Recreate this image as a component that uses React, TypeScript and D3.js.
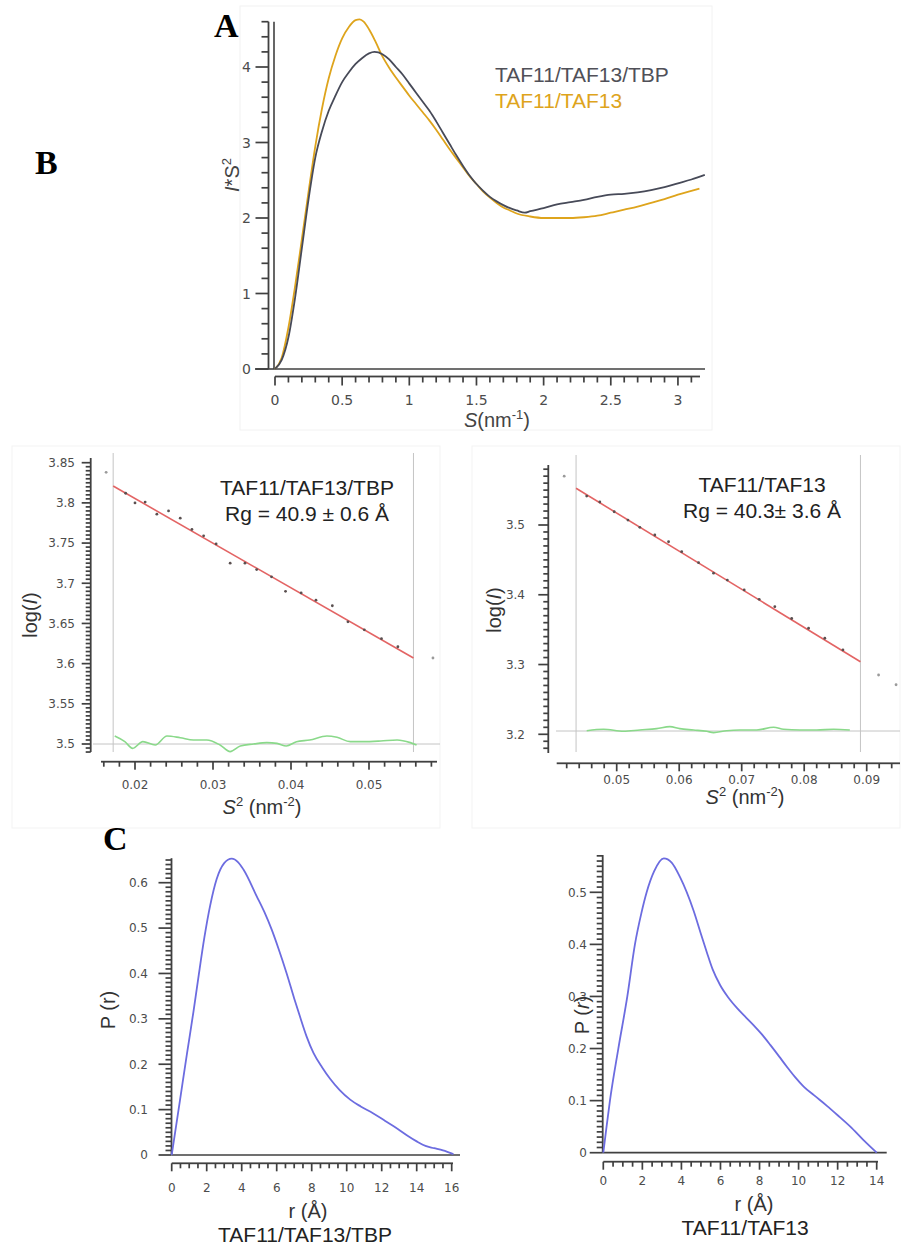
import React from "react";
import * as d3 from "d3";

// ---------- Panel A : Kratky plot ----------
const kratkySTBP = [0, 0.05, 0.1, 0.15, 0.2, 0.25, 0.3, 0.35, 0.4, 0.45, 0.5, 0.55, 0.6, 0.65, 0.7, 0.74, 0.8, 0.85, 0.9, 0.95, 1.0, 1.05, 1.1, 1.15, 1.2, 1.25, 1.3, 1.35, 1.4, 1.45, 1.5, 1.55, 1.6, 1.65, 1.7, 1.75, 1.8, 1.86, 1.9, 2.0, 2.1, 2.2, 2.3, 2.4, 2.5, 2.6, 2.7, 2.8, 2.9, 3.0, 3.1, 3.2];
const kratkyITBP = [0, 0.12, 0.42, 0.95, 1.6, 2.25, 2.8, 3.15, 3.42, 3.62, 3.8, 3.93, 4.04, 4.12, 4.18, 4.2, 4.17, 4.1, 4.0, 3.9, 3.78, 3.66, 3.54, 3.42, 3.28, 3.13, 2.98, 2.83, 2.69, 2.56, 2.45, 2.36, 2.28, 2.22, 2.17, 2.13, 2.1, 2.07, 2.09, 2.13, 2.18, 2.21, 2.24, 2.28, 2.31, 2.32, 2.34, 2.37, 2.41, 2.46, 2.51, 2.57];
const kratkySTAF = [0, 0.05, 0.1, 0.15, 0.2, 0.25, 0.3, 0.35, 0.4, 0.45, 0.5, 0.55, 0.6, 0.63, 0.66, 0.7, 0.75, 0.8, 0.85, 0.9, 0.95, 1.0, 1.05, 1.1, 1.15, 1.2, 1.25, 1.3, 1.35, 1.4, 1.45, 1.5, 1.55, 1.6, 1.65, 1.7, 1.75, 1.8, 1.9, 2.0, 2.1, 2.2, 2.3, 2.4, 2.5, 2.6, 2.7, 2.8, 2.9, 3.0, 3.1, 3.16];
const kratkyITAF = [0, 0.15, 0.55, 1.1, 1.72, 2.35, 2.95, 3.45, 3.85, 4.15, 4.38, 4.53, 4.62, 4.63, 4.6, 4.5, 4.33, 4.14, 3.99, 3.86, 3.74, 3.62, 3.51, 3.4, 3.29, 3.17, 3.04, 2.91, 2.79, 2.67, 2.55, 2.45, 2.35, 2.27, 2.2, 2.14, 2.1, 2.06, 2.02, 2.0, 2.0, 2.0, 2.01, 2.03, 2.07, 2.11, 2.15, 2.2, 2.25, 2.31, 2.36, 2.39];
const aXTicks = [0, 0.5, 1, 1.5, 2, 2.5, 3];
const aYTicks = [0, 1, 2, 3, 4];
const aLegend = ["TAF11/TAF13/TBP", "TAF11/TAF13"];

// ---------- Panel B left : Guinier TAF11/TAF13/TBP ----------
const gLS2 = [0.0163, 0.0188, 0.02, 0.0213, 0.0228, 0.0243, 0.0258, 0.0273, 0.0288, 0.0304, 0.0322, 0.0341, 0.0356, 0.0375, 0.0393, 0.0413, 0.0432, 0.0453, 0.0473, 0.0494, 0.0516, 0.0537, 0.0582];
const gLLogI = [3.838, 3.812, 3.8, 3.801, 3.786, 3.79, 3.781, 3.767, 3.759, 3.749, 3.725, 3.725, 3.717, 3.708, 3.69, 3.688, 3.679, 3.672, 3.652, 3.642, 3.631, 3.621, 3.607];
const gLFitS2 = [0.0172, 0.0557];
const gLFitLogI = [3.821, 3.607];
const gLResS2 = [0.0174, 0.0187, 0.0197, 0.021, 0.0226, 0.0241, 0.0258, 0.0275, 0.0292, 0.0309, 0.0322, 0.0335, 0.0352, 0.0369, 0.0382, 0.0394, 0.0407, 0.0424, 0.0446, 0.0459, 0.0476, 0.0493, 0.0515, 0.0536, 0.0553, 0.0561];
const gLResid = [0.0099, 0.0029, -0.0054, 0.0029, -0.0012, 0.0099, 0.0078, 0.005, 0.005, -0.0012, -0.0095, -0.0025, 0.0, 0.0017, 0.0008, -0.0025, 0.0029, 0.005, 0.0099, 0.0083, 0.0029, 0.0029, 0.0037, 0.005, 0.0017, -0.0012];
const gLResBase = 3.5;
const gLXTicks = [0.02, 0.03, 0.04, 0.05];
const gLYTicks = [3.5, 3.55, 3.6, 3.65, 3.7, 3.75, 3.8, 3.85];

// ---------- Panel B right : Guinier TAF11/TAF13 ----------
const gRS2 = [0.0416, 0.0452, 0.0473, 0.0496, 0.0518, 0.0537, 0.0561, 0.0583, 0.0604, 0.0631, 0.0655, 0.0677, 0.0704, 0.0728, 0.0753, 0.078, 0.0807, 0.0833, 0.0862, 0.0919, 0.0947];
const gRLogI = [3.57, 3.5415, 3.533, 3.519, 3.507, 3.4967, 3.4857, 3.476, 3.4618, 3.446, 3.431, 3.421, 3.407, 3.3935, 3.383, 3.366, 3.352, 3.3377, 3.321, 3.285, 3.271];
const gRFitS2 = [0.0435, 0.089];
const gRFitLogI = [3.5526, 3.304];
const gRResS2 = [0.0452, 0.0479, 0.0511, 0.0537, 0.0564, 0.0585, 0.0601, 0.0623, 0.0644, 0.0655, 0.0676, 0.0697, 0.0724, 0.0751, 0.0767, 0.0793, 0.082, 0.0847, 0.0873];
const gRResid = [0.0002, 0.0022, -0.0007, 0.0012, 0.0031, 0.006, 0.0031, 0.0012, -0.0007, -0.0026, 0.0002, 0.0012, 0.0012, 0.005, 0.0022, 0.0012, 0.0012, 0.0022, 0.0012];
const gRResBase = 3.205;
const gRXTicks = [0.05, 0.06, 0.07, 0.08, 0.09];
const gRYTicks = [3.2, 3.3, 3.4, 3.5];

// ---------- Panel C : P(r) ----------
const prLR = [0, 0.44, 0.86, 1.24, 1.52, 1.87, 2.2, 2.57, 3.0, 3.43, 3.8, 4.1, 4.86, 5.3, 5.71, 6.1, 6.57, 7.0, 7.33, 7.7, 8.1, 8.6, 9.05, 9.6, 10.2, 10.8, 11.5, 12.2, 12.9, 13.5, 14, 14.5, 15, 15.5, 16.1];
const prLP = [0, 0.112, 0.22, 0.315, 0.39, 0.48, 0.55, 0.608, 0.643, 0.653, 0.645, 0.629, 0.57, 0.535, 0.497, 0.455, 0.4, 0.345, 0.305, 0.262, 0.225, 0.193, 0.168, 0.143, 0.122, 0.107, 0.092, 0.075, 0.058, 0.042, 0.03, 0.02, 0.015, 0.01, 0.002];
const prRR = [0, 0.1, 0.34, 0.77, 1.23, 1.62, 1.95, 2.22, 2.6, 3.1, 3.5, 3.93, 4.62, 5.0, 5.3, 5.6, 5.98, 6.4, 6.84, 7.3, 7.69, 8.1, 8.55, 9.0, 9.4, 9.8, 10.26, 10.8, 11.45, 12.0, 12.65, 13.3, 14.0];
const prRP = [0, 0.03, 0.1, 0.2, 0.3, 0.4, 0.46, 0.5, 0.54, 0.565, 0.557, 0.529, 0.465, 0.42, 0.385, 0.352, 0.322, 0.298, 0.278, 0.26, 0.245, 0.228, 0.207, 0.185, 0.165, 0.146, 0.127, 0.11, 0.09, 0.072, 0.05, 0.025, 0];
const prLXTicks = [0, 2, 4, 6, 8, 10, 12, 14, 16];
const prLYTicks = [0, 0.1, 0.2, 0.3, 0.4, 0.5, 0.6];
const prRXTicks = [0, 2, 4, 6, 8, 10, 12, 14];
const prRYTicks = [0, 0.1, 0.2, 0.3, 0.4, 0.5];
const prNames = ["TAF11/TAF13/TBP", "TAF11/TAF13"];

// ---------- styles ----------
const SANS = "'Liberation Sans', Arial, sans-serif";
const TICKF = "'DejaVu Sans', Verdana, sans-serif";
const SERIF = "'Liberation Serif', 'Times New Roman', serif";
const AX = "#404040";
const TK = "#4c4c4c";
const C_DARK = "#474a58";
const C_GOLD = "#dea41c";
const C_RED = "#e36464";
const C_GREEN = "#8ad98a";
const C_BLUE = "#6c6ce0";
const C_REF = "#c4c4c4";

type Sc = d3.ScaleLinear<number, number>;
type Tick = { v: number; len: number };

// tick positions every `step`; multiples of `major` get the long length
function tickSet(from: number, to: number, step: number, major: number, majorLen: number, minorLen: number): Tick[] {
  const n = Math.round((to - from) / step);
  const out: Tick[] = [];
  for (let i = 0; i <= n; i++) {
    const v = from + i * step;
    const q = v / major;
    const isMajor = Math.abs(q - Math.round(q)) < 1e-6;
    out.push({ v, len: isMajor ? majorLen : minorLen });
  }
  return out;
}

const TW = 1.7;

function VAxis(p: { x: number; scale: Sc; top: number; bottom: number; ticks: Tick[]; labels: number[]; labelX: number; fs: number }) {
  return (
    <g>
      <rect x={p.x - 0.9} y={p.top} width={1.8} height={p.bottom - p.top} fill={AX} />
      {p.ticks.map((t, i) => (
        <rect key={"k" + i} x={p.x - t.len} y={p.scale(t.v) - TW / 2} width={t.len} height={TW} fill={AX} />
      ))}
      {p.labels.map((v, i) => (
        <text key={"t" + i} x={p.labelX} y={p.scale(v)} dy="0.36em" textAnchor="end" fontFamily={TICKF} fontSize={p.fs} fill={TK}>
          {String(v)}
        </text>
      ))}
    </g>
  );
}

function HAxis(p: { y: number; scale: Sc; left: number; right: number; ticks: Tick[]; labels: number[]; labelY: number; fs: number }) {
  return (
    <g>
      <rect x={p.left} y={p.y - 0.9} width={p.right - p.left} height={1.8} fill={AX} />
      {p.ticks.map((t, i) => (
        <rect key={"k" + i} x={p.scale(t.v) - TW / 2} y={p.y} width={TW} height={t.len} fill={AX} />
      ))}
      {p.labels.map((v, i) => (
        <text key={"t" + i} x={p.scale(v)} y={p.labelY} textAnchor="middle" fontFamily={TICKF} fontSize={p.fs} fill={TK}>
          {String(v)}
        </text>
      ))}
    </g>
  );
}

function linePath(xs: number[], ys: number[], sx: Sc, sy: Sc, curve: d3.CurveFactory = d3.curveMonotoneX) {
  const pts = xs.map((x, i) => [x, ys[i]] as [number, number]);
  return d3.line<[number, number]>().x((d) => sx(d[0])).y((d) => sy(d[1])).curve(curve)(pts) || "";
}

function PanelA() {
  const sx = d3.scaleLinear().domain([0, 3.2]).range([275, 704.8]);
  const sy = d3.scaleLinear().domain([0, 4]).range([369, 67]);
  return (
    <g>
      <rect x={240} y={6} width={472} height={424} fill="none" stroke="#f2f2f2" />
      <VAxis x={268.5} scale={sy} top={sy(4.6)} bottom={sy(0)} ticks={tickSet(0, 4.6, 0.2, 1, 13, 7)} labels={aYTicks} labelX={251} fs={14} />
      <line x1={255} x2={274} y1={sy(0)} y2={sy(0)} stroke={AX} strokeWidth={1.6} />
      <line x1={274} x2={274} y1={sy(4.6)} y2={sy(0)} stroke={AX} strokeWidth={1.6} />
      <line x1={274} x2={705} y1={sy(0)} y2={sy(0)} stroke={AX} strokeWidth={1.6} />
      <HAxis y={376.5} scale={sx} left={275} right={700} ticks={tickSet(0, 3.1, 0.1, 0.5, 9, 6)} labels={aXTicks} labelY={405} fs={14} />
      <path d={linePath(kratkySTAF, kratkyITAF, sx, sy)} fill="none" stroke={C_GOLD} strokeWidth={1.8} />
      <path d={linePath(kratkySTBP, kratkyITBP, sx, sy)} fill="none" stroke={C_DARK} strokeWidth={1.8} />
      <text x={495} y={82} fontFamily={SANS} fontSize={21} fill="#505058">{aLegend[0]}</text>
      <text x={495} y={108} fontFamily={SANS} fontSize={21} fill={C_GOLD}>{aLegend[1]}</text>
      <text x={497} y={427} textAnchor="middle" fontFamily={SANS} fontSize={20} fill="#444">
        <tspan fontStyle="italic">S</tspan>(nm<tspan fontSize={13} dy={-8}>-1</tspan><tspan dy={8}>)</tspan>
      </text>
      <text transform="translate(239,175) rotate(-90)" textAnchor="middle" fontFamily={SANS} fontSize={20} fill="#444">
        <tspan fontStyle="italic">I</tspan>*S<tspan fontSize={13} dy={-8}>2</tspan>
      </text>
      <text x={214} y={37} fontFamily={SERIF} fontWeight="bold" fontSize={34} fill="#000">A</text>
    </g>
  );
}

function Guinier(p: {
  sx: Sc; sy: Sc; xAxisY: number; xLeft: number; xRight: number; yAxisX: number; yTop: number; yBottom: number;
  xTicks: Tick[]; yTicks: Tick[]; xLabels: number[]; yLabels: number[]; yLabelX: number; xLabelY: number;
  s2: number[]; logI: number[]; fitS2: number[]; fitLogI: number[]; resS2: number[]; resid: number[]; resBase: number;
  refTop: number; refBottom: number; refY: number; refLeft: number; refRight: number;
  title: string; rg: string; titleX: number; titleY: number; xlabX: number; xlabY: number; ylabX: number; ylabY: number;
}) {
  const { sx, sy } = p;
  const inFit = (v: number) => v >= p.fitS2[0] - 1e-6 && v <= p.fitS2[1] + 1e-6;
  return (
    <g>
      <line x1={sx(p.fitS2[0])} x2={sx(p.fitS2[0])} y1={p.refTop} y2={p.refBottom} stroke={C_REF} strokeWidth={1} />
      <line x1={sx(p.fitS2[1])} x2={sx(p.fitS2[1])} y1={p.refTop} y2={p.refBottom} stroke={C_REF} strokeWidth={1} />
      <line x1={p.refLeft} x2={p.refRight} y1={p.refY} y2={p.refY} stroke={C_REF} strokeWidth={1} />
      <VAxis x={p.yAxisX} scale={sy} top={p.yTop} bottom={p.yBottom} ticks={p.yTicks} labels={p.yLabels} labelX={p.yLabelX} fs={12} />
      <HAxis y={p.xAxisY} scale={sx} left={p.xLeft} right={p.xRight} ticks={p.xTicks} labels={p.xLabels} labelY={p.xLabelY} fs={12} />
      <path d={linePath(p.resS2, p.resid.map((r) => r + p.resBase), sx, sy)} fill="none" stroke={C_GREEN} strokeWidth={1.6} />
      <path d={linePath(p.fitS2, p.fitLogI, sx, sy, d3.curveLinear)} fill="none" stroke={C_RED} strokeWidth={1.6} />
      {p.s2.map((v, i) => (
        <circle key={i} cx={sx(v)} cy={sy(p.logI[i])} r={1.4} fill={inFit(v) ? "#5a5050" : "#9a9a9a"} />
      ))}
      <text x={p.titleX} y={p.titleY} textAnchor="middle" fontFamily={SANS} fontSize={21} fill="#222">{p.title}</text>
      <text x={p.titleX} y={p.titleY + 26} textAnchor="middle" fontFamily={SANS} fontSize={21} fill="#222">{p.rg}</text>
      <text x={p.xlabX} y={p.xlabY} textAnchor="middle" fontFamily={SANS} fontSize={20} fill="#333">
        <tspan fontStyle="italic">S</tspan><tspan fontSize={13} dy={-8}>2</tspan><tspan dy={8}> (nm</tspan><tspan fontSize={13} dy={-8}>-2</tspan><tspan dy={8}>)</tspan>
      </text>
      <text transform={`translate(${p.ylabX},${p.ylabY}) rotate(-90)`} textAnchor="middle" fontFamily={SANS} fontSize={20} fill="#333">
        log(<tspan fontStyle="italic">I</tspan>)
      </text>
    </g>
  );
}

function PrPanel(p: {
  sx: Sc; sy: Sc; r: number[]; pr: number[]; xLabels: number[]; yLabels: number[]; xMax: number; yMax: number;
  axisX: number; zeroRight: number; tickAxisY: number; tickRight: number; yLabelX: number; xLabelY: number;
  rlabX: number; name: string; nameX: number; ylabX: number; ylabY: number; italicR: boolean;
}) {
  const { sx, sy } = p;
  return (
    <g>
      <VAxis x={p.axisX} scale={sy} top={sy(p.yMax)} bottom={sy(0)} ticks={tickSet(0, Math.floor(p.yMax * 100) / 100, 0.01, 0.1, 13, 6)} labels={p.yLabels} labelX={p.yLabelX} fs={12} />
      <line x1={p.axisX} x2={p.zeroRight} y1={sy(0)} y2={sy(0)} stroke={AX} strokeWidth={1.7} />
      <HAxis y={p.tickAxisY} scale={sx} left={sx(0)} right={p.tickRight} ticks={tickSet(0, p.xMax, 0.5, 2, 8, 5)} labels={p.xLabels} labelY={p.xLabelY} fs={12} />
      <path d={linePath(p.r, p.pr, sx, sy)} fill="none" stroke={C_BLUE} strokeWidth={1.8} />
      <text x={p.rlabX} y={p.xLabelY + 26} textAnchor="middle" fontFamily={SANS} fontSize={20} fill="#333">r (Å)</text>
      <text x={p.nameX} y={p.xLabelY + 50} textAnchor="middle" fontFamily={SANS} fontSize={21} fill="#222">{p.name}</text>
      <text transform={`translate(${p.ylabX},${p.ylabY}) rotate(-90)`} textAnchor="middle" fontFamily={SANS} fontSize={20} fill="#333">
        P (<tspan fontStyle={p.italicR ? "italic" : "normal"}>r</tspan>)
      </text>
    </g>
  );
}

export default function App() {
  const bLx = d3.scaleLinear().domain([0.02, 0.05]).range([135, 369]);
  const bLy = d3.scaleLinear().domain([3.5, 3.85]).range([744, 462.7]);
  const bRx = d3.scaleLinear().domain([0.05, 0.09]).range([616.7, 866.7]);
  const bRy = d3.scaleLinear().domain([3.2, 3.5]).range([734.3, 525]);
  const cLx = d3.scaleLinear().domain([0, 16]).range([171.7, 451.7]);
  const cLy = d3.scaleLinear().domain([0, 0.6]).range([1155, 882.7]);
  const cRx = d3.scaleLinear().domain([0, 14]).range([603.3, 876.7]);
  const cRy = d3.scaleLinear().domain([0, 0.5]).range([1152.7, 892.3]);
  return (
    <div style={{ position: "absolute", left: 0, top: 0 }}>
      <svg width={901} height={1245} style={{ display: "block", background: "#fff" }}>
        <PanelA />
        <text x={35} y={174} fontFamily={SERIF} fontWeight="bold" fontSize={34} fill="#000">B</text>
        <rect x={12} y={446} width={428} height={382} fill="none" stroke="#f3f3f3" />
        <rect x={472} y={446} width={428} height={382} fill="none" stroke="#f3f3f3" />
        <Guinier
          sx={bLx} sy={bLy} xAxisY={761.7} xLeft={101} xRight={437} yAxisX={90.7} yTop={458} yBottom={752}
          xTicks={tickSet(0.016, 0.058, 0.002, 0.01, 8, 5)} yTicks={tickSet(3.49, 3.85, 0.005, 0.05, 9, 5)} xLabels={gLXTicks} yLabels={gLYTicks} yLabelX={75} xLabelY={789}
          s2={gLS2} logI={gLLogI} fitS2={gLFitS2} fitLogI={gLFitLogI} resS2={gLResS2} resid={gLResid} resBase={gLResBase}
          refTop={453} refBottom={752} refY={bLy(3.5)} refLeft={93} refRight={440}
          title="TAF11/TAF13/TBP" rg="Rg = 40.9 ± 0.6 Å" titleX={307} titleY={495} xlabX={262} xlabY={814} ylabX={37} ylabY={615}
        />
        <Guinier
          sx={bRx} sy={bRy} xAxisY={763.3} xLeft={556.7} xRight={900} yAxisX={548.3} yTop={465} yBottom={753}
          xTicks={tickSet(0.042, 0.094, 0.002, 0.01, 8, 5)} yTicks={tickSet(3.18, 3.58, 0.01, 0.1, 10, 5)} xLabels={gRXTicks} yLabels={gRYTicks} yLabelX={525} xLabelY={784}
          s2={gRS2} logI={gRLogI} fitS2={gRFitS2} fitLogI={gRFitLogI} resS2={gRResS2} resid={gRResid} resBase={gRResBase}
          refTop={455} refBottom={752} refY={731} refLeft={556} refRight={900}
          title="TAF11/TAF13" rg="Rg = 40.3± 3.6 Å" titleX={762} titleY={492} xlabX={745} xlabY={804} ylabX={501} ylabY={610}
        />
        <text x={103} y={850} fontFamily={SERIF} fontWeight="bold" fontSize={34} fill="#000">C</text>
        <PrPanel
          sx={cLx} sy={cLy} r={prLR} pr={prLP} xLabels={prLXTicks} yLabels={prLYTicks} xMax={16} yMax={0.654}
          axisX={171.5} zeroRight={460} tickAxisY={1163.3} tickRight={453} yLabelX={148} xLabelY={1192}
          rlabX={308} name={prNames[0]} nameX={305} ylabX={115} ylabY={1010} italicR={false}
        />
        <PrPanel
          sx={cRx} sy={cRy} r={prRR} pr={prRP} xLabels={prRXTicks} yLabels={prRYTicks} xMax={14} yMax={0.5716}
          axisX={602.7} zeroRight={886.7} tickAxisY={1161.7} tickRight={878} yLabelX={587} xLabelY={1185}
          rlabX={754} name={prNames[1]} nameX={745} ylabX={589} ylabY={1015} italicR={true}
        />
      </svg>
    </div>
  );
}
